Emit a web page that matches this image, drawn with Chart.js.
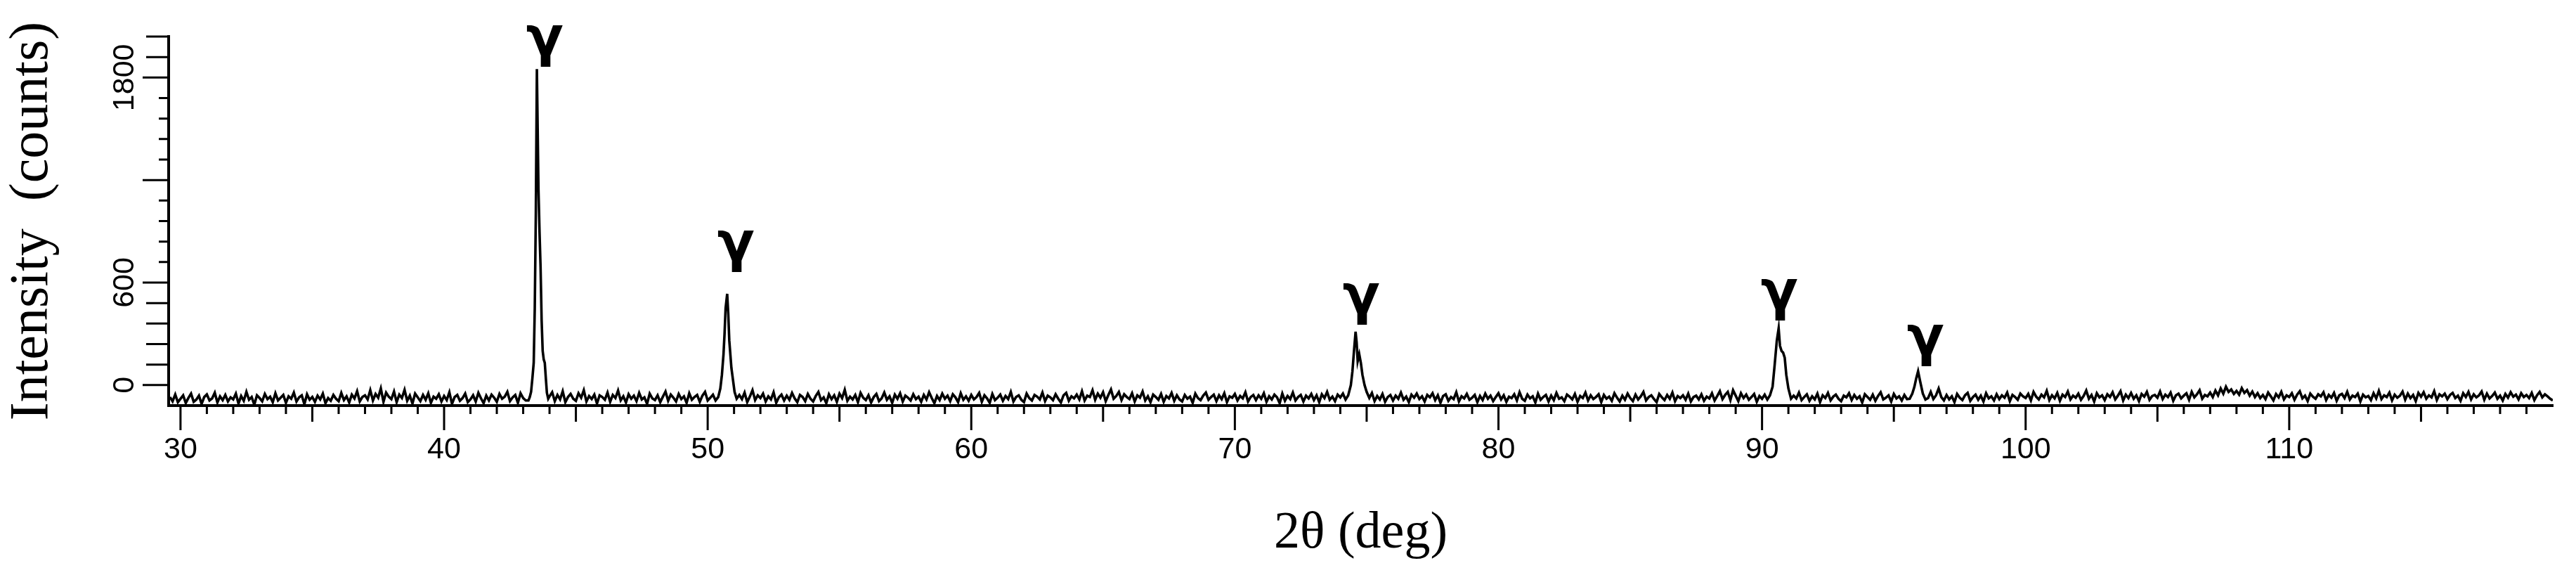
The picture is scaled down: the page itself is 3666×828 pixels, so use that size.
<!DOCTYPE html>
<html lang="en">
<head>
    <meta charset="UTF-8">
    <title>XRD pattern</title>
    <script src="https://cdn.jsdelivr.net/npm/chart.js"></script>
    <style>
        body { margin: 0; background: #fff; }
        #wrap { width: 3666px; height: 828px; }
    </style>
</head>
<body>
    <div id="wrap"><canvas id="xrd"></canvas></div>

    <script>
        // background counts, read every 0.1 deg starting at 29.6
        const noiseStart = 29.6;
        const noiseStep = 0.1;
        const noiseCounts = [
            -70,-95,-55,-100,
            -80,-60,-105,-75,-50,-98,-85,-62,-110,-70,
            -55,-90,-78,-45,-102,-66,-88,-58,-96,-72,
            -84,-50,-108,-64,-92,-40,-86,-70,-115,-60,
            -76,-95,-52,-82,-68,-100,-48,-90,-74,-58,
            -104,-66,-80,-44,-96,-72,-60,-112,-54,-86,
            -70,-98,-62,-84,-50,-106,-76,-92,-58,-80,
            -94,-46,-88,-66,-102,-56,-78,-36,-96,-70,
            -60,-84,-30,-90,-52,-74,-20,-98,-44,-68,
            -82,-38,-100,-56,-76,-28,-92,-62,-108,-50,
            -72,-94,-58,-86,-48,-104,-68,-80,-54,-96,
            -64,-88,-42,-110,-70,-58,-92,-76,-50,-100,
            -84,-60,-96,-46,-78,-106,-62,-90,-56,-74,
            -98,-52,-80,-68,-40,-94,-72,-58,-104,-48,
            -76,-90,-34,-86,-62,-70,-80,-60,-50,-88,
            -66,-42,-94,-58,-84,-36,-100,-70,-52,-80,
            -92,-48,-74,-30,-96,-64,-82,-56,-108,-60,
            -70,-86,-44,-98,-58,-76,-32,-90,-66,-102,
            -54,-80,-62,-94,-46,-84,-72,-110,-50,-78,
            -88,-60,-100,-68,-38,-92,-56,-74,-96,-52,
            -82,-66,-104,-48,-86,-70,-58,-98,-62,-40,
            -90,-74,-56,-102,-64,-80,-50,-86,-70,-60,
            -36,-94,-58,-82,-44,-100,-68,-30,-88,-60,
            -76,-50,-96,-66,-84,-42,-104,-72,-56,-90,
            -62,-86,-46,-78,-100,-58,-70,-94,-52,-80,
            -96,-64,-40,-88,-72,-106,-54,-82,-60,-98,
            -50,-76,-28,-92,-68,-84,-58,-100,-46,-74,
            -88,-60,-102,-70,-52,-94,-78,-44,-86,-66,
            -104,-56,-80,-48,-96,-62,-74,-90,-54,-82,
            -68,-98,-58,-84,-42,-76,-106,-64,-88,-50,
            -80,-62,-94,-54,-72,-100,-48,-86,-66,-92,
            -58,-84,-70,-46,-98,-60,-78,-104,-52,-88,
            -74,-56,-92,-64,-82,-40,-96,-70,-60,-86,
            -100,-50,-76,-90,-58,-68,-84,-44,-94,-62,
            -72,-88,-54,-80,-102,-60,-46,-92,-66,-78,
            -56,-84,-36,-90,-62,-70,-30,-86,-50,-74,
            -42,-94,-58,-26,-80,-64,-40,-88,-54,-70,
            -82,-48,-96,-60,-74,-38,-90,-66,-100,-56,
            -70,-86,-52,-98,-64,-78,-46,-92,-60,-84,
            -96,-58,-80,-68,-104,-50,-76,-88,-62,-44,
            -86,-70,-56,-94,-60,-82,-48,-100,-66,-74,
            -52,-90,-64,-78,-42,-96,-70,-58,-88,-60,
            -80,-48,-98,-66,-84,-56,-72,-106,-50,-92,
            -64,-82,-44,-90,-70,-58,-96,-62,-78,-52,
            -88,-60,-100,-54,-76,-40,-86,-68,-94,-56,
            -72,-50,-84,-62,-92,-70,-58,-80,-66,-90,
            -60,-78,-46,-94,-64,-84,-52,-98,-70,-58,
            -90,-62,-80,-44,-86,-68,-100,-56,-74,-50,
            -82,-66,-96,-58,-72,-48,-88,-60,-104,-64,
            -54,-92,-70,-82,-42,-96,-66,-78,-52,-86,
            -74,-58,-100,-64,-88,-50,-80,-62,-94,-70,
            -48,-84,-60,-98,-68,-76,-54,-90,-42,-80,
            -92,-56,-78,-66,-102,-50,-86,-70,-58,-96,
            -62,-88,-46,-80,-72,-94,-56,-68,-84,-52,
            -98,-64,-76,-44,-90,-60,-82,-70,-54,-100,
            -58,-80,-68,-92,-48,-74,-96,-62,-86,-50,
            -76,-94,-56,-84,-66,-40,-90,-70,-60,-82,
            -100,-52,-72,-88,-58,-80,-44,-94,-64,-76,
            -60,-86,-50,-96,-70,-62,-84,-54,-92,-68,
            -78,-48,-90,-64,-36,-82,-58,-40,-88,-30,
            -62,-94,-48,-76,-56,-86,-70,-52,-98,-64,
            -80,-56,-92,-66,-74,-50,-86,-60,-70,-88,
            -58,-96,-62,-78,-44,-88,-70,-54,-92,-66,
            -84,-50,-100,-60,-76,-46,-90,-68,-56,-80,
            -94,-62,-72,-48,-88,-58,-80,-66,-102,-54,
            -70,-86,-56,-92,-64,-42,-84,-74,-60,-96,
            -52,-78,-66,-90,-58,-82,-48,-70,-86,-60,
            -64,-88,-56,-76,-40,-82,-60,-20,-70,-90,
            -58,-84,-66,-100,-52,-74,-88,-60,-46,-92,
            -70,-56,-86,-62,-96,-48,-78,-66,-90,-54,
            -82,-60,-74,-44,-94,-58,-70,-86,-50,-66,
            -76,-52,-90,-40,-68,-84,-56,-72,-34,-88,
            -60,-78,-46,-92,-56,-70,-38,-84,-62,-74,
            -50,-86,-64,-32,-80,-58,-96,-48,-72,-60,
            -88,-54,-70,-42,-84,-62,-36,-90,-56,-76,
            -46,-80,-60,-94,-52,-68,-40,-86,-64,-58,
            -74,-38,-82,-56,-70,-44,-92,-60,-50,-78,
            -62,-48,-86,-40,-72,-54,-30,-80,-58,-66,
            -44,-70,-32,-60,-20,-50,-10,-40,-26,-52,
            -34,-56,-18,-46,-30,-62,-38,-70,-48,-76,
            -58,-82,-44,-66,-90,-52,-72,-40,-84,-60,
            -70,-48,-86,-56,-36,-78,-62,-94,-50,-68,
            -80,-54,-66,-42,-88,-58,-74,-46,-92,-60,
            -52,-76,-40,-84,-62,-70,-50,-96,-56,-72,
            -64,-88,-48,-78,-34,-82,-60,-70,-44,-90,
            -56,-74,-62,-38,-86,-50,-76,-58,-94,-46,
            -68,-42,-80,-60,-72,-36,-88,-54,-66,-50,
            -82,-58,-46,-76,-62,-92,-48,-70,-40,-84,
            -54,-72,-60,-38,-86,-50,-78,-64,-44,-80,
            -62,-90,-52,-74,-42,-68,-56,-84,-48,-70,
            -58,-76,-46,-88,-60,-40,-72,-54,-66,-80,
            -90
        ];

        // the gamma reflections, read more finely
        const peak111X = [43.20, 43.25, 43.30, 43.35, 43.40, 43.44, 43.48, 43.52, 43.55, 43.58, 43.62, 43.66, 43.70, 43.74, 43.78, 43.82, 43.86, 43.90, 43.95];
        const peak111Y = [-90, -70, -40, 40, 130, 450, 1000, 1850, 1500, 1150, 900, 690, 380, 200, 150, 130, 40, -45, -80];
        const peak200X = [50.30, 50.40, 50.48, 50.54, 50.60, 50.64, 50.68, 50.74, 50.78, 50.82, 50.86, 50.90, 50.96, 51.02, 51.10];
        const peak200Y = [-90, -70, -20, 60, 180, 300, 450, 534, 420, 260, 180, 100, 30, -40, -80];
        const peak220X = [74.20, 74.30, 74.40, 74.46, 74.52, 74.58, 74.62, 74.66, 74.72, 74.78, 74.84, 74.92, 75.00, 75.10];
        const peak220Y = [-85, -60, 0, 80, 200, 312, 250, 140, 180, 130, 60, 0, -40, -75];
        const peak311X = [90.20, 90.30, 90.40, 90.48, 90.56, 90.63, 90.68, 90.74, 90.80, 90.86, 90.92, 91.00, 91.10];
        const peak311Y = [-85, -60, -10, 120, 260, 332, 230, 200, 190, 160, 60, -20, -80];
        const peak222X = [95.60, 95.70, 95.78, 95.85, 95.92, 96.00, 96.10, 96.20];
        const peak222Y = [-80, -50, -10, 40, 81, 20, -50, -85];

        // gamma markers: angle and baseline height in counts
        const gammaX = [43.82, 51.07, 74.80, 90.66, 96.20];
        const gammaY = [1928, 727, 419, 444, 176];

        const xTickValues = [];
        for (let a = 30; a < 120; a++) xTickValues.push(a);
        const xLabels = [30, 40, 50, 60, 70, 80, 90, 100, 110];
        const yLabels = [0, 600, 1800];

        const peaks = [
            [peak111X, peak111Y], [peak200X, peak200Y], [peak220X, peak220Y],
            [peak311X, peak311Y], [peak222X, peak222Y]
        ];

        // merge background and peaks into one sorted series
        function buildPoints() {
            const pts = [];
            noiseCounts.forEach((c, i) => {
                const a = +(noiseStart + i * noiseStep).toFixed(2);
                const inPeak = peaks.some(([px]) => a >= px[0] && a <= px[px.length - 1]);
                if (!inPeak) pts.push({ x: a, y: c });
            });
            peaks.forEach(([px, py]) => px.forEach((a, i) => pts.push({ x: a, y: py[i] })));
            return pts.sort((p, q) => p.x - q.x);
        }

        // tick marks of different length, and the gamma labels
        const axisMarks = {
            id: 'axisMarks',
            afterDraw(chart) {
                const { ctx, chartArea, scales: { x, y } } = chart;
                ctx.save();
                ctx.strokeStyle = '#000';
                ctx.lineWidth = 3;
                ctx.beginPath();
                x.ticks.forEach(t => {
                    const v = t.value;
                    const len = v % 10 === 0 ? 35 : (v % 5 === 0 ? 23 : 12);
                    const px = x.getPixelForValue(v);
                    ctx.moveTo(px, chartArea.bottom);
                    ctx.lineTo(px, chartArea.bottom + len);
                });
                y.ticks.forEach(t => {
                    const v = Math.round(t.value);
                    if (v < 0) return;
                    const len = v % 600 === 0 ? 37 : ((v < 600 || v > 1800) ? 32 : 14);
                    const py = y.getPixelForValue(v);
                    ctx.moveTo(chartArea.left - len, py);
                    ctx.lineTo(chartArea.left, py);
                });
                ctx.stroke();

                ctx.fillStyle = '#000';
                ctx.font = 'bold 78px "DejaVu Sans"';
                ctx.textAlign = 'center';
                ctx.textBaseline = 'alphabetic';
                gammaX.forEach((g, i) => {
                    ctx.fillText('γ', x.getPixelForValue(g), y.getPixelForValue(gammaY[i]));
                });
                ctx.restore();
            }
        };

        new Chart(document.getElementById('xrd'), {
            type: 'line',
            data: {
                datasets: [{
                    data: buildPoints(),
                    borderColor: '#000',
                    borderWidth: 3.6,
                    pointRadius: 0,
                    tension: 0,
                    fill: false
                }]
            },
            options: {
                responsive: true,
                maintainAspectRatio: false,
                animation: false,
                layout: { padding: { top: 52, right: 33, left: 0, bottom: 0 } },
                plugins: { legend: { display: false }, tooltip: { enabled: false } },
                scales: {
                    x: {
                        type: 'linear',
                        min: 29.55,
                        max: 120,
                        grid: { display: false, drawTicks: false },
                        border: { display: true, color: '#000', width: 4 },
                        afterBuildTicks: s => { s.ticks = xTickValues.map(v => ({ value: v })); },
                        ticks: {
                            autoSkip: false,
                            maxRotation: 0,
                            padding: 37,
                            color: '#000',
                            font: { family: 'Liberation Sans', size: 43 },
                            callback: v => xLabels.includes(v) ? String(v) : ''
                        },
                        title: {
                            display: true,
                            text: '2θ (deg)',
                            color: '#000',
                            font: { family: 'Liberation Serif', size: 74 },
                            padding: { top: 0, bottom: 24 }
                        },
                        afterFit: s => { s.height = 251; }
                    },
                    y: {
                        min: -120,
                        max: 2040,
                        grid: { display: false, drawTicks: false },
                        border: { display: true, color: '#000', width: 4 },
                        ticks: {
                            stepSize: 120,
                            autoSkip: false,
                            minRotation: 90,
                            maxRotation: 90,
                            crossAlign: 'center',
                            padding: 14,
                            color: '#000',
                            font: { family: 'Liberation Sans', size: 43 },
                            callback: v => yLabels.includes(Math.round(v)) ? String(v) : ''
                        },
                        title: {
                            display: true,
                            text: 'Intensity  (counts)',
                            color: '#000',
                            font: { family: 'Liberation Serif', size: 78 },
                            padding: { top: 0, bottom: 0 }
                        },
                        afterFit: s => { s.width = 240; }
                    }
                }
            },
            plugins: [axisMarks]
        });
    </script>
</body>
</html>
